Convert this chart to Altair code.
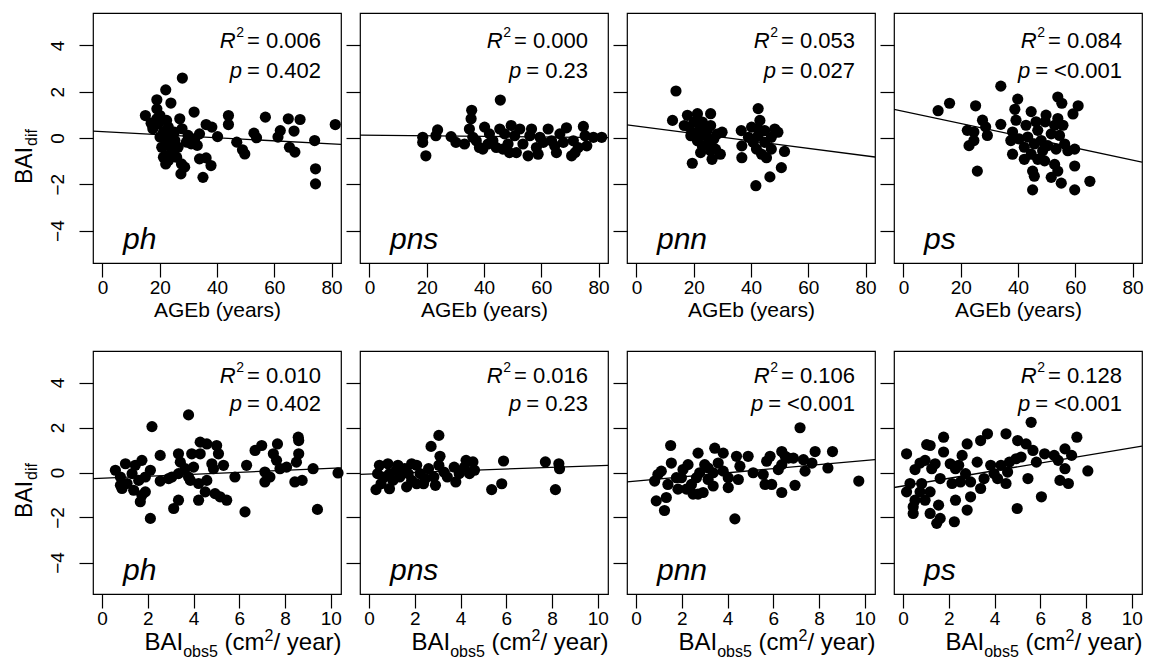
import altair as alt
import pandas as pd

FONT = "Liberation Sans"

species = ["ph", "pns", "pnn", "ps"]
top_r2 = ["0.006", "0.000", "0.053", "0.084"]
top_p = ["0.402", "0.23", "0.027", "<0.001"]
bot_r2 = ["0.010", "0.016", "0.106", "0.128"]
bot_p = ["0.402", "0.23", "<0.001", "<0.001"]

# fitted lines: intercept, slope
top_fit_int = [0.272, 0.12, 0.517, 1.153]
top_fit_slope = [-0.00658, -0.0012, -0.01605, -0.02633]
bot_fit_int = [-0.251, -0.066, -0.376, -0.60]
bot_fit_slope = [0.0434, 0.0369, 0.091, 0.170]

age_ticks = [0, 20, 40, 60, 80]
bai_ticks = [0, 2, 4, 6, 8, 10]
y_ticks = [-4, -2, 0, 2, 4]
age_domain = [-3.3, 83.3]
bai_domain = [-0.4, 10.45]
y_domain = [-5.4, 5.4]

# (AGEb, BAIdif)
top_ph = [(27.9,2.59),(22.1,2.08),(19.0,1.65),(23.9,1.51),(15.0,0.97),(19.0,1.26),(20.1,0.97),
          (17.6,0.40),(17.0,0.64),(27.0,0.83),(32.0,1.12),(22.4,0.76),(23.0,0.47),(21.3,0.25),
          (23.6,0.04),(25.3,-0.11),(22.4,-0.25),(24.1,-0.47),(22.1,-0.76),(23.0,-0.97),(22.1,-1.12),
          (25.9,-0.83),(27.6,-1.12),(28.7,-1.26),(27.4,-1.55),(27.8,0.40),(29.9,0.11),(31.0,-0.25),
          (33.1,-0.32),(33.9,0.18),(36.2,0.58),(38.2,0.47),(40.2,0.06),(33.9,-0.90),(36.2,-0.86),
          (37.9,-1.19),(35.1,-1.70),(44.0,0.97),(44.0,0.58),(46.9,-0.18),(48.9,-0.51),(49.7,-0.69),
          (52.9,0.21),(53.8,0.01),(56.9,0.90),(61.3,0.04),(62.1,0.32),(64.9,0.83),(69.0,0.80),
          (66.9,0.30),(65.3,-0.40),(67.2,-0.61),(74.1,-0.11),(74.4,-1.33),(74.4,-1.98),(81.3,0.58),
          (20.7,-0.40),(24.7,-0.61),(26.4,-0.40),(20.1,0.04),(19.5,0.61),(25.1,0.25),(29.3,-0.18),
          (32.2,-0.04),(19.0,0.83),(21.3,-0.83)]
top_pns = [(45.7,1.64),(35.7,1.20),(35.5,0.83),(34.9,0.39),(23.8,0.35),(23.2,0.10),(18.6,0.03),
           (18.6,-0.19),(19.7,-0.77),(28.5,0.06),(30.2,-0.19),(33.2,-0.26),(37.3,-0.12),(38.4,-0.41),
           (40.2,0.47),(41.9,0.18),(43.1,-0.12),(45.5,0.39),(46.6,-0.48),(48.4,-0.26),(49.5,0.54),
           (50.7,0.10),(52.5,0.39),(53.6,-0.26),(55.4,-0.77),(56.6,0.39),(58.3,-0.41),(59.5,0.03),
           (62.4,0.39),(63.6,-0.12),(65.3,-0.63),(66.5,0.18),(68.8,0.44),(70.6,-0.77),(71.2,-0.12),
           (72.9,-0.41),(74.7,0.50),(75.9,-0.34),(75.3,0.10),(78.2,0.03),(81.1,0.03),(39.6,-0.48),
           (44.3,-0.41),(51.3,-0.63),(60.7,-0.19),(67.7,-0.19),(71.8,-0.63),(41.4,-0.26),(36.1,0.03),
           (56.0,0.10),(47.2,0.18),(64.7,-0.34),(48.9,-0.63),(58.9,-0.70)]
top_pnn = [(13.8,2.03),(12.6,0.76),(17.8,0.98),(21.3,1.05),(25.9,1.05),(18.4,0.47),(20.1,0.69),
           (23.0,0.69),(25.9,0.54),(29.9,0.25),(19.0,0.10),(21.3,-0.12),(24.1,0.10),(27.0,-0.04),
           (23.0,-0.34),(25.9,-0.55),(29.3,-0.70),(26.4,-0.92),(19.5,-1.09),(25.3,-0.26),(21.8,0.32),
           (28.2,0.17),(36.6,0.32),(36.8,-0.34),(36.8,-0.85),(42.5,1.27),(40.2,0.47),(43.1,0.76),
           (44.8,0.32),(42.5,0.10),(40.8,-0.19),(44.8,-0.19),(47.1,-0.48),(43.7,-0.70),(49.4,0.25),
           (51.7,-0.58),(50.6,-1.28),(46.6,-1.68),(41.7,-2.06),(42.5,0.39),(39.1,0.03),(47.1,0.03),
           (16.7,0.54),(23.6,0.47),(27.6,-0.48),(20.7,0.17),(24.7,0.32),(22.4,-0.63),(41.9,-0.48),
           (45.4,-0.85),(48.3,0.39)]
top_ps = [(34.0,2.24),(12.1,1.18),(16.1,1.50),(25.2,1.39),(39.9,1.68),(53.9,1.77),(55.3,1.50),
          (61.0,1.39),(59.2,1.04),(22.3,0.33),(24.6,0.26),(27.6,0.77),(28.7,0.48),(29.3,0.11),
          (22.9,-0.33),(24.6,-0.11),(34.0,0.59),(25.8,-1.43),(38.9,1.24),(39.3,0.77),(44.6,1.14),
          (42.8,0.55),(38.1,0.26),(37.5,-0.11),(40.4,-0.04),(38.1,-0.70),(43.4,0.04),(46.9,0.33),
          (49.8,0.99),(49.5,0.70),(52.8,0.55),(55.7,0.55),(51.6,0.18),(54.5,0.11),(45.7,-0.26),
          (48.1,-0.11),(50.4,-0.33),(53.3,-0.48),(56.3,-0.26),(57.4,-0.55),(59.8,-0.48),(44.6,-0.70),
          (46.9,-0.92),(49.3,-0.99),(52.8,-1.14),(45.1,-1.43),(45.7,-1.65),(51.6,-1.70),(55.1,-1.95),
          (45.1,-2.24),(59.8,-2.24),(65.1,-1.87),(59.8,-1.21),(53.9,-1.43),(42.2,-0.40),(48.6,-0.55),
          (42.2,-0.92),(53.9,0.84),(46.3,0.70)]

# (BAIobs5, BAIdif)
bot_ph = [(3.78,2.56),(2.18,2.04),(0.58,0.10),(1.02,0.39),(1.45,0.32),(1.74,0.54),(0.80,-0.20),
          (0.80,-0.57),(1.09,-0.49),(1.31,-0.05),(1.60,-0.35),(1.89,-0.20),(2.11,0.10),(1.74,-1.01),
          (1.67,-1.30),(1.89,-0.86),(2.11,-2.04),(2.54,0.76),(2.54,-0.38),(3.05,-0.20),(3.34,0.83),
          (3.42,0.46),(3.34,-0.05),(3.63,0.17),(3.34,-1.23),(3.13,-1.60),(3.86,-0.35),(3.92,0.83),
          (4.00,0.24),(4.29,1.35),(4.58,1.27),(4.29,0.83),(4.22,-0.49),(4.22,-1.23),(4.58,-0.35),
          (4.51,-0.86),(4.80,0.39),(5.01,1.20),(5.09,0.83),(4.87,0.17),(5.31,0.32),(4.94,-0.94),
          (5.16,-1.08),(5.45,-1.23),(5.81,-0.20),(6.25,-1.75),(6.32,0.32),(6.69,0.98),(6.98,1.20),
          (7.12,0.02),(7.12,-0.42),(7.34,-0.20),(7.49,0.83),(7.67,1.27),(7.63,0.54),(7.78,0.17),
          (8.07,0.24),(8.58,1.57),(8.60,1.42),(8.60,0.83),(8.50,0.46),(8.43,-0.42),(8.75,-0.35),
          (9.23,0.17),(9.42,-1.64),(10.32,-0.02),(0.87,-0.71),(1.38,-0.79),(2.91,-0.27),(3.78,-0.20)]
bot_pns = [(3.05,1.65),(2.71,1.16),(3.10,0.72),(0.45,0.32),(0.82,0.39),(0.37,-0.05),(0.30,-0.76),
           (0.89,-0.72),(0.67,-0.20),(1.19,0.10),(1.34,-0.20),(1.64,-0.64),(1.56,0.17),(1.86,0.39),
           (2.08,0.32),(2.23,-0.05),(1.86,-0.35),(2.38,-0.50),(2.60,0.17),(2.83,-0.20),(2.90,-0.57),
           (3.05,0.32),(3.27,0.02),(3.72,0.24),(3.79,-0.42),(3.94,-0.05),(4.24,0.54),(4.54,0.47),
           (4.39,-0.05),(4.61,0.10),(5.88,0.51),(5.80,-0.50),(5.36,-0.76),(7.71,0.47),(8.30,0.39),
           (8.33,0.17),(8.15,-0.76),(1.04,-0.35),(0.52,-0.50),(2.46,-0.27),(2.08,-0.50),(3.42,-0.20),
           (1.26,0.32),(1.71,-0.05),(0.89,-0.05),(4.17,0.24)]
bot_pnn = [(7.17,1.99),(1.51,1.20),(0.81,-0.38),(0.88,-1.26),(1.24,-1.69),(1.32,-1.11),(1.10,0.06),
           (1.54,0.42),(1.76,-0.23),(1.83,-0.74),(2.05,0.13),(2.27,0.35),(2.42,-0.53),(2.49,-0.96),
           (2.71,0.86),(2.78,-0.01),(3.00,0.35),(2.93,-0.89),(3.15,-0.31),(3.37,-0.01),(3.44,1.08),
           (3.81,0.86),(3.59,0.42),(4.03,-0.23),(4.03,-0.67),(4.32,-2.06),(4.39,0.72),(4.54,0.28),
           (4.47,-0.31),(4.90,0.72),(5.12,-0.01),(5.56,-0.09),(5.64,-0.53),(5.86,0.72),(5.71,0.50),
           (5.93,-0.53),(6.22,0.13),(6.37,0.93),(6.52,0.72),(6.37,-0.89),(6.95,-0.57),(6.88,0.64),
           (7.32,0.57),(7.39,0.06),(7.69,0.42),(7.83,0.93),(8.39,0.20),(8.59,0.93),(9.74,-0.38),
           (1.39,-0.53),(1.98,-0.23),(2.64,-0.23),(3.15,0.20),(3.37,-0.60),(2.71,-0.96),(2.20,-0.74),
           (0.95,-0.09),(6.37,0.35),(6.66,0.64),(3.81,0.06)]
bot_ps = [(5.60,2.23),(0.15,0.83),(0.52,0.13),(0.15,-0.86),(0.74,0.42),(1.03,1.24),(1.18,1.20),
          (0.96,0.54),(1.25,0.17),(0.81,-0.49),(0.74,-0.86),(0.52,-1.23),(0.44,-1.52),(0.44,-1.82),
          (0.96,-1.23),(1.18,-1.82),(1.47,-2.26),(1.62,-2.04),(1.55,-1.45),(1.18,-0.86),(1.62,-0.27),
          (1.77,1.57),(1.77,0.91),(2.06,0.39),(2.14,-0.49),(2.29,-1.23),(2.24,-2.19),(2.43,0.32),
          (2.58,0.76),(2.80,1.27),(2.73,-0.05),(2.51,-0.42),(2.95,-0.42),(2.95,-1.08),(2.80,-1.67),
          (3.24,0.46),(3.39,1.42),(3.69,1.72),(3.39,-0.71),(3.54,-0.27),(3.83,0.32),(3.98,-0.05),
          (4.13,-0.27),(4.28,0.32),(4.50,-0.49),(4.50,1.72),(4.65,0.46),(4.94,0.61),(5.16,0.69),
          (5.01,1.42),(5.38,1.27),(5.68,0.98),(5.83,0.46),(5.46,-0.27),(4.99,-1.60),(6.05,-1.08),
          (6.19,0.83),(6.61,0.76),(6.78,0.54),(7.08,1.05),(7.08,0.17),(6.86,-0.35),(7.23,-0.49),
          (7.37,0.76),(7.60,1.57),(8.08,0.07),(4.57,0.02),(2.29,0.17),(1.40,0.39),(0.30,-0.49)]

top_points = [top_ph, top_pns, top_pnn, top_ps]
bot_points = [bot_ph, bot_pns, bot_pnn, bot_ps]

CW = {c: 0.556 for c in "0123456789"}
CW.update({".": 0.278, "=": 0.584, " ": 0.278, "<": 0.584, "R": 0.722, "p": 0.556,
           "B": 0.667, "A": 0.667, "I": 0.278, "o": 0.556, "b": 0.556, "s": 0.5,
           "(": 0.333, ")": 0.333, "c": 0.5, "m": 0.833, "/": 0.278, "y": 0.5,
           "e": 0.556, "a": 0.556, "r": 0.333, "d": 0.556, "i": 0.222, "f": 0.278})


def tw(s, fs):
    return sum(CW.get(c, 0.556) for c in s) * fs


def txt(s, px, py, fs, italic=False, align="left", angle=None, baseline="alphabetic"):
    kw = dict(font=FONT, fontSize=fs, color="black", align=align, baseline=baseline)
    if italic:
        kw["fontStyle"] = "italic"
    if angle is not None:
        kw["angle"] = angle
    return alt.Chart(pd.DataFrame({"t": [s]})).mark_text(**kw).encode(
        x=alt.value(px), y=alt.value(py), text="t:N")


def stat_lines(r2, pv, yr, yp, xr=228, fs=22, sfs=14):
    out = []
    rest = "= " + r2
    wr = tw(rest, fs)
    out.append(txt(rest, xr, yr, fs, align="right"))
    x2 = xr - wr - 3
    out.append(txt("2", x2, yr - 11, sfs, align="right"))
    xR = x2 - tw("2", sfs) - 0.5
    out.append(txt("R", xR, yr, fs, italic=True, align="right"))
    restp = "= " + pv
    wp = tw(restp, fs)
    out.append(txt(restp, xr, yp, fs, align="right"))
    out.append(txt("p", xr - wp - 5, yp, fs, italic=True, align="right"))
    return out


def ytitle(ystart):
    fs, sfs = 23, 16
    return [txt("BAI", -68, ystart, fs, angle=270, baseline="middle"),
            txt("dif", -61, ystart - tw("BAI", fs) - 1, sfs, angle=270, baseline="middle")]


def xtitle_bai(h, center=150):
    fs, sfs = 24, 16
    parts = [("BAI", fs, 0, 0), ("obs5", sfs, 7, 0), ("(cm", fs, 0, tw(" ", fs)),
             ("2", sfs, -9, 0), ("/ year)", fs, 0, 0)]
    total = sum(tw(s, f) + pre for s, f, _, pre in parts)
    x = center - total / 2
    yb = h + 56
    out = []
    for s, f, dy, pre in parts:
        x += pre
        out.append(txt(s, x, yb + dy, f))
        x += tw(s, f)
    return out


def panel(pts, a, b, xdom, xticks, r2, pv, sp, w, h, first, bottom):
    df = pd.DataFrame(pts, columns=["x", "y"])
    xkw = dict(values=xticks, tickSize=14, tickWidth=1.2, tickColor="black", domain=False,
               grid=False, labelFontSize=19, labelPadding=1, labelColor="black", labelFont=FONT)
    if bottom:
        xax = alt.Axis(title=None, **xkw)
    else:
        xax = alt.Axis(title="AGEb (years)", titleFontSize=21, titleFont=FONT,
                       titleFontWeight="normal", titleColor="black", titlePadding=2, **xkw)
    ykw = dict(values=y_ticks, tickSize=14, tickWidth=1.2, tickColor="black", domain=False,
               grid=False, title=None)
    if first:
        yax = alt.Axis(labelAngle=270, labelAlign="center", labelBaseline="bottom",
                       labelPadding=12, labelFontSize=19, labelColor="black", labelFont=FONT, **ykw)
    else:
        yax = alt.Axis(labels=False, **ykw)
    xenc = alt.X("x:Q", scale=alt.Scale(domain=xdom, nice=False, zero=False), axis=xax)
    yenc = alt.Y("y:Q", scale=alt.Scale(domain=y_domain, nice=False, zero=False), axis=yax)
    points = alt.Chart(df).mark_circle(size=125, color="black", opacity=1).encode(x=xenc, y=yenc)
    ldf = pd.DataFrame({"x": xdom, "y": [a + b * v for v in xdom]})
    line = alt.Chart(ldf).mark_line(color="black", strokeWidth=1.3, clip=True).encode(x=xenc, y=yenc)
    layers = [points, line]
    if bottom:
        layers += stat_lines(r2, pv, 32, 60)
    else:
        layers += stat_lines(r2, pv, 35, 65)
    layers.append(txt(sp, 30, h - 14, 30, italic=True))
    if first:
        layers += ytitle(167 if bottom else 171)
    if bottom:
        layers += xtitle_bai(h)
    return alt.layer(*layers).properties(width=w, height=h)


top_row = alt.hconcat(*[
    panel(top_points[i], top_fit_int[i], top_fit_slope[i], age_domain, age_ticks,
          top_r2[i], top_p[i], species[i], 248, 250, i == 0, False) for i in range(4)
], spacing=19, bounds="flush")
bot_row = alt.hconcat(*[
    panel(bot_points[i], bot_fit_int[i], bot_fit_slope[i], bai_domain, bai_ticks,
          bot_r2[i], bot_p[i], species[i], 248, 243, i == 0, True) for i in range(4)
], spacing=19, bounds="flush")

chart = alt.vconcat(top_row, bot_row, spacing=29).properties(
    padding={"left": 13, "top": 12, "right": 0, "bottom": 0}, background="white"
).configure_view(stroke="black", strokeWidth=1.2)

chart.save("out.html", embed_options={"renderer": "svg", "actions": False})
